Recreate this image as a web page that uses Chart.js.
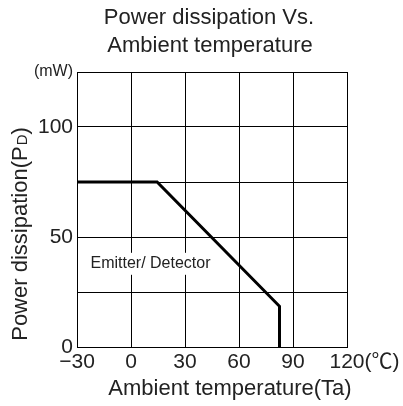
<!DOCTYPE html>
<html>
<head>
<meta charset="utf-8">
<script src="https://cdn.jsdelivr.net/npm/chart.js@4/dist/chart.umd.min.js"></script>
<style>
  html, body { margin: 0; padding: 0; background: #fff; }
  #wrap { width: 403px; height: 406px; }
</style>
</head>
<body>
<div id="wrap"><canvas id="chart" width="403" height="406"></canvas></div>
<script>
const FONT = "'Liberation Sans', 'Noto Sans CJK KR', sans-serif";

// curve: derating of power dissipation
const tempC = [-30, 14.5, 82.5, 82.5];
const powerMw = [75, 75, 18.5, 0];

const xTicks = [-30, 0, 30, 60, 90, 120];
const yLabels = { 0: '0', 50: '50', 100: '100', 125: '(mW)' };

const titleLines = ['Power dissipation Vs.', 'Ambient temperature'];
const xTitle = 'Ambient temperature(Ta)';
const curveLabel = 'Emitter/ Detector';

const textPlugin = {
    id: 'texts',
    afterDraw(chart) {
        const ctx = chart.ctx;
        const xs = chart.scales.x, ys = chart.scales.y;
        ctx.save();
        ctx.fillStyle = '#222';
        ctx.textBaseline = 'alphabetic';

        // title
        ctx.font = '22px ' + FONT;
        ctx.textAlign = 'center';
        ctx.fillText(titleLines[0], 209, 24);
        ctx.fillText(titleLines[1], 210, 52);

        // x axis title
        ctx.fillText(xTitle, 230, 395);

        // unit after last x tick
        ctx.textAlign = 'left';
        ctx.font = '21px ' + FONT;
        const w120 = ctx.measureText('120').width;
        ctx.fillText('(℃)', xs.getPixelForValue(120) + w120 / 2, 368);

        // curve label with white box
        const lx = xs.getPixelForValue(-22.5), ly = ys.getPixelForValue(36);
        ctx.font = '16px ' + FONT;
        const lw = ctx.measureText(curveLabel).width;
        ctx.fillStyle = '#fff';
        ctx.fillRect(lx - 3, ly - 15, lw + 6, 22);
        ctx.fillStyle = '#222';
        ctx.fillText(curveLabel, lx, ly);

        // y axis title, P with small D
        ctx.translate(27, 234);
        ctx.rotate(-Math.PI / 2);
        const big = '22px ' + FONT, small = '15px ' + FONT;
        const p1 = 'Power dissipation(P', p2 = 'D', p3 = ')';
        ctx.font = big; const w1 = ctx.measureText(p1).width, w3 = ctx.measureText(p3).width;
        ctx.font = small; const w2 = ctx.measureText(p2).width + 1;
        let x0 = -(w1 + w2 + w3) / 2;
        ctx.font = big; ctx.fillText(p1, x0, 0);
        ctx.font = small; ctx.fillText(p2, x0 + w1 + 1, 0);
        ctx.font = big; ctx.fillText(p3, x0 + w1 + w2, 0);
        ctx.restore();
    }
};

new Chart(document.getElementById('chart'), {
    type: 'line',
    data: {
        datasets: [{
            data: tempC.map((t, i) => ({ x: t, y: powerMw[i] })),
            borderColor: '#000',
            borderWidth: 3,
            pointRadius: 0,
            tension: 0,
            fill: false
        }]
    },
    options: {
        responsive: false,
        devicePixelRatio: 1,
        animation: false,
        layout: { padding: { left: 0, top: 72, right: 56, bottom: 0 } },
        plugins: { legend: { display: false }, tooltip: { enabled: false } },
        scales: {
            x: {
                type: 'linear',
                min: -30, max: 120,
                afterFit: s => { s.height = 59; },
                afterBuildTicks: s => { s.ticks = xTicks.map(v => ({ value: v })); },
                grid: { color: '#000', lineWidth: 1, drawTicks: false },
                border: { color: '#000', width: 1 },
                ticks: {
                    padding: 3,
                    color: '#222',
                    font: { family: FONT, size: 21 },
                    maxRotation: 0,
                    callback: v => String(v).replace('-', '\u2212')
                }
            },
            y: {
                type: 'linear',
                min: 0, max: 125,
                afterFit: s => { s.width = 77; },
                grid: { color: '#000', lineWidth: 1, drawTicks: false },
                border: { color: '#000', width: 1 },
                ticks: {
                    stepSize: 25,
                    padding: 4,
                    color: '#222',
                    font: c => ({ family: FONT, size: c.tick && c.tick.value === 125 ? 16 : 21 }),
                    callback: v => yLabels[v] !== undefined ? yLabels[v] : ''
                }
            }
        }
    },
    plugins: [textPlugin]
});
</script>
</body>
</html>
